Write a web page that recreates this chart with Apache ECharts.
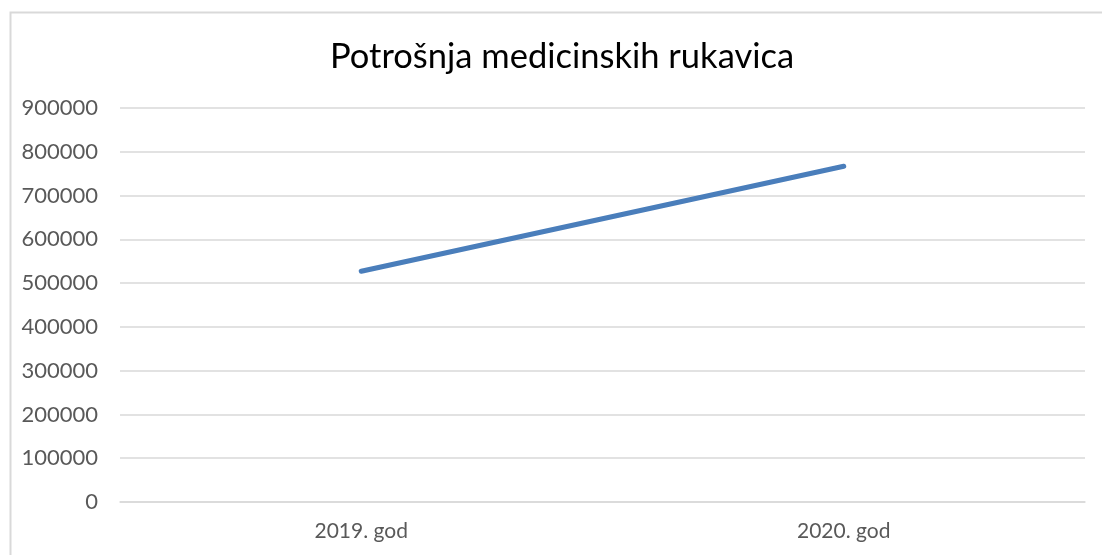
<!DOCTYPE html>
<html>
<head>
<meta charset="utf-8">
<script src="https://cdn.jsdelivr.net/npm/echarts@6/dist/echarts.min.js"></script>
<style>
  html, body { margin: 0; padding: 0; background: #fff; }
  #chart { width: 1102px; height: 555px; }
</style>
</head>
<body>
<div id="chart"></div>
<script>
var categories = ['2019. god', '2020. god'];
var gloves = [527000, 767000];
var yTicks = [0, 100000, 200000, 300000, 400000, 500000, 600000, 700000, 800000, 900000];

var myChart = echarts.init(document.getElementById('chart'));
var option;

option = {
  animation: false,
  textStyle: { fontFamily: 'Lato' },
  graphic: [
    {
      // outer chart frame (cut off at right and bottom)
      type: 'rect',
      left: 8, top: 10,
      shape: { width: 1200, height: 600 },
      style: { fill: 'none', stroke: '#d9d9d9', lineWidth: 2 },
      silent: true
    }
  ],
  title: {
    text: 'Potrošnja medicinskih rukavica',
    left: 325,
    top: 34,
    textStyle: { fontFamily: 'Lato', fontSize: 34.5, fontWeight: 'normal', color: '#000' }
  },
  grid: { left: 120, right: 17, top: 108, bottom: 53, containLabel: false },
  xAxis: {
    type: 'category',
    data: categories,
    axisLine: { lineStyle: { color: '#d9d9d9', width: 1.5 } },
    axisTick: { show: false },
    axisLabel: { color: '#595959', fontSize: 21, margin: 19 }
  },
  yAxis: {
    type: 'value',
    min: yTicks[0],
    max: yTicks[yTicks.length - 1],
    interval: 100000,
    axisLine: { show: false },
    axisTick: { show: false },
    axisLabel: {
      color: '#595959', fontSize: 22, margin: 22,
      formatter: function (v) { return String(v); }
    },
    splitLine: { lineStyle: { color: '#d9d9d9', width: 1.5 } }
  },
  series: [
    {
      type: 'line',
      data: gloves,
      showSymbol: false,
      symbol: 'none',
      lineStyle: { color: '#4a7ebb', width: 5, cap: 'round' }
    }
  ]
};

option && myChart.setOption(option);
</script>
</body>
</html>
